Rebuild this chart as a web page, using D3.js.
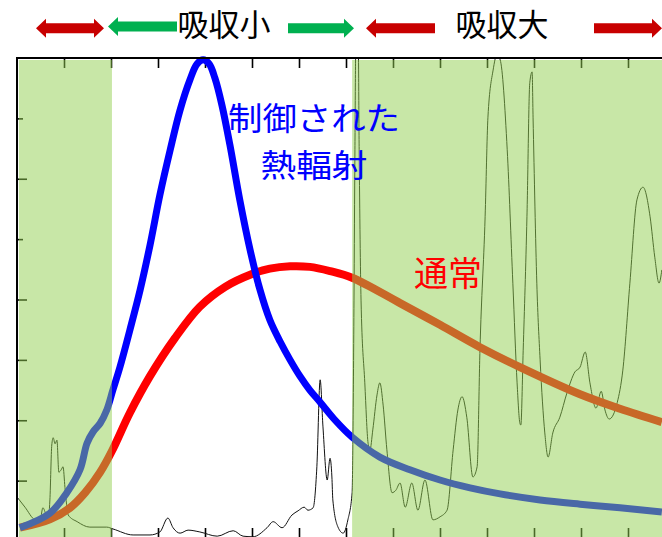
<!DOCTYPE html>
<html>
<head>
<meta charset="utf-8">
<script src="https://cdn.jsdelivr.net/npm/d3@7"></script>
<style>
  html, body { margin: 0; padding: 0; background: #fff; }
  svg { display: block; }
  text { font-family: "Noto Sans CJK JP", "Noto Sans", sans-serif; }
</style>
</head>
<body>
<svg id="chart" width="662" height="537"></svg>
<script>
// Wavelength axis positions (arbitrary units) and tick values
const xTicks = d3.range(1, 14);
const yTicksShort = [5, 7];
const yTicksLong = [1, 2, 3, 4, 6];

// Controlled thermal emission spectrum
const controlledX = [0.06, 0.70, 1.06, 1.34, 1.49, 1.62, 1.77, 1.91, 2.04, 2.19, 2.40, 2.62, 2.83, 3.04, 3.26, 3.47, 3.68, 3.83, 3.96, 4.09, 4.21, 4.36, 4.53, 4.74, 4.96, 5.17, 5.38, 5.60, 5.81, 6.02, 6.23, 6.45, 6.77, 7.13, 7.72, 8.36, 9.00, 9.64, 10.28, 11.13, 11.98, 12.83, 13.72];
const controlledY = [0.22, 0.46, 0.80, 1.18, 1.62, 1.81, 1.95, 2.17, 2.50, 2.88, 3.49, 4.16, 4.90, 5.73, 6.48, 7.14, 7.64, 7.90, 7.97, 7.90, 7.67, 7.22, 6.56, 5.65, 4.82, 4.16, 3.66, 3.30, 3.00, 2.73, 2.50, 2.30, 2.00, 1.72, 1.39, 1.18, 1.01, 0.88, 0.78, 0.68, 0.61, 0.55, 0.48];

// Ordinary (blackbody-like) thermal emission spectrum
const normalX = [0.06, 0.70, 1.13, 1.45, 1.77, 2.02, 2.40, 2.83, 3.36, 3.89, 4.43, 4.96, 5.38, 5.81, 6.23, 6.66, 7.13, 8.15, 9.00, 9.85, 10.70, 11.98, 12.83, 13.72];
const normalY = [0.22, 0.36, 0.55, 0.80, 1.14, 1.49, 2.12, 2.73, 3.36, 3.88, 4.21, 4.41, 4.51, 4.55, 4.54, 4.47, 4.36, 3.94, 3.58, 3.21, 2.88, 2.43, 2.19, 1.97];

// Atmospheric absorption spectrum
const absorbX = [0.02, 0.17, 0.38, 0.49, 0.55, 0.62, 0.66, 0.70, 0.74, 0.77, 0.81, 0.85, 0.89, 0.94, 0.98, 1.02, 1.09, 1.28, 1.55, 1.91, 2.04, 2.47, 2.83, 3.04, 3.21, 3.32, 3.47, 3.64, 3.89, 4.26, 4.60, 4.81, 5.02, 5.32, 5.45, 5.64, 5.85, 5.98, 6.11, 6.19, 6.30, 6.38, 6.45, 6.51, 6.60, 6.66, 6.70, 6.72, 6.83, 6.94, 7.04, 7.13, 7.15, 7.17, 7.19, 7.21, 7.26, 7.28, 7.32, 7.40, 7.47, 7.51, 7.57, 7.66, 7.72, 7.79, 7.87, 7.98, 8.06, 8.15, 8.26, 8.40, 8.53, 8.68, 8.85, 9.00, 9.15, 9.28, 9.38, 9.47, 9.57, 9.70, 9.79, 9.85, 9.96, 10.02, 10.13, 10.21, 10.28, 10.43, 10.55, 10.64, 10.70, 10.72, 10.77, 10.85, 10.91, 10.96, 10.98, 11.06, 11.13, 11.23, 11.30, 11.40, 11.55, 11.70, 11.87, 11.98, 12.09, 12.19, 12.32, 12.43, 12.51, 12.60, 12.77, 12.89, 13.04, 13.19, 13.32, 13.47, 13.57, 13.66, 13.72];
const absorbY = [0.71, 0.56, 0.35, 0.33, 0.55, 0.43, 0.35, 0.68, 1.59, 1.71, 1.61, 1.67, 1.14, 1.18, 1.23, 0.89, 0.43, 0.32, 0.23, 0.23, 0.20, 0.10, 0.10, 0.15, 0.38, 0.22, 0.13, 0.18, 0.15, 0.08, 0.17, 0.08, 0.07, 0.22, 0.32, 0.22, 0.43, 0.50, 0.56, 0.51, 0.55, 1.23, 2.67, 1.89, 1.01, 1.37, 1.06, 0.68, 0.23, 0.13, 0.35, 0.80, 1.89, 3.99, 6.48, 8.30, 8.30, 6.48, 3.99, 2.62, 1.62, 1.51, 1.84, 2.42, 2.62, 2.25, 1.51, 0.80, 0.84, 0.96, 0.56, 0.96, 0.51, 1.01, 0.35, 0.40, 0.51, 1.51, 2.17, 2.39, 2.05, 1.06, 1.23, 3.16, 5.37, 7.02, 7.80, 8.05, 7.97, 6.48, 4.27, 2.62, 1.95, 1.92, 3.16, 5.37, 7.59, 7.77, 7.02, 4.27, 3.00, 1.79, 1.39, 1.79, 2.05, 2.45, 2.80, 2.88, 3.13, 2.62, 2.20, 2.48, 2.17, 2.02, 2.29, 2.83, 4.27, 5.65, 5.86, 5.37, 4.70, 4.27, 4.49];

// Absorbing bands (x ranges) shaded on the plot
const bandStart = [0.04, 7.13];
const bandEnd = [2.02, 14.5];

// Labels
const bandLabels = ["吸収小", "吸収大"];
const controlledLabel = ["制御された", "熱輻射"];
const normalLabel = "通常";

const svg = d3.select("#chart");
const W = 662, H = 537;
const plot = { left: 17, top: 58, bottom: 541 };

const x = d3.scaleLinear().domain([0, 14]).range([plot.left, plot.left + 47 * 14]);
const y = d3.scaleLinear().domain([0, 8]).range([plot.bottom, plot.top]);

// clip for the absorption trace
svg.append("defs").append("clipPath").attr("id", "plotClip")
  .append("rect").attr("x", plot.left).attr("y", plot.top)
  .attr("width", W - plot.left).attr("height", plot.bottom - plot.top);

// tick marks (drawn beneath the band shading)
const tickStyle = g => {
  g.select(".domain").remove();
  g.selectAll(".tick line").attr("stroke", "#000").attr("stroke-width", 1.6);
  g.selectAll(".tick text").remove();
};
svg.append("g").attr("transform", `translate(0,${plot.top})`)
  .call(d3.axisTop(x).tickValues(xTicks).tickSize(-10)).call(tickStyle);
svg.append("g").attr("transform", `translate(0,${plot.bottom})`)
  .call(d3.axisBottom(x).tickValues(xTicks).tickSize(-13)).call(tickStyle);
svg.append("g").attr("transform", `translate(${plot.left},0)`)
  .call(d3.axisLeft(y).tickValues(yTicksShort).tickSize(-6)).call(tickStyle);
svg.append("g").attr("transform", `translate(${plot.left},0)`)
  .call(d3.axisLeft(y).tickValues(yTicksLong).tickSize(-10)).call(tickStyle);

// absorption trace
const absorbData = absorbX.map((v, i) => [v, absorbY[i]]);
svg.append("path")
  .datum(absorbData)
  .attr("clip-path", "url(#plotClip)")
  .attr("fill", "none")
  .attr("stroke", "#111")
  .attr("stroke-width", 1)
  .attr("d", d3.line().x(d => x(d[0])).y(d => y(d[1])).curve(d3.curveMonotoneX));

// emission curves
const smooth = d3.line().x(d => x(d[0])).y(d => y(d[1])).curve(d3.curveCatmullRom.alpha(0.5));
svg.append("path")
  .datum(normalX.map((v, i) => [v, normalY[i]]))
  .attr("fill", "none").attr("stroke", "#ff0000").attr("stroke-width", 8)
  .attr("d", smooth);
svg.append("path")
  .datum(controlledX.map((v, i) => [v, controlledY[i]]))
  .attr("fill", "none").attr("stroke", "#0000ff").attr("stroke-width", 7)
  .attr("d", smooth);

// translucent green shading over the absorbing bands
svg.append("g").selectAll("rect")
  .data(bandStart.map((s, i) => [s, bandEnd[i]]))
  .join("rect")
  .attr("x", d => x(d[0]))
  .attr("y", plot.top + 2)
  .attr("width", d => Math.min(x(d[1]), W) - x(d[0]))
  .attr("height", plot.bottom - plot.top - 2)
  .attr("fill", "#92d050")
  .attr("fill-opacity", 0.5);

// frame: left and top axis lines
svg.append("line").attr("x1", plot.left).attr("x2", plot.left)
  .attr("y1", plot.top - 1).attr("y2", plot.bottom)
  .attr("stroke", "#000").attr("stroke-width", 2);
svg.append("line").attr("x1", plot.left - 1).attr("x2", W)
  .attr("y1", plot.top).attr("y2", plot.top)
  .attr("stroke", "#000").attr("stroke-width", 2);

// curve labels (two lines, stretched to the label width)
svg.append("text").attr("x", 314).attr("y", 130)
  .attr("text-anchor", "middle").attr("font-size", 32).attr("fill", "#0000ff")
  .attr("textLength", 172).attr("lengthAdjust", "spacingAndGlyphs")
  .text(controlledLabel[0]);
svg.append("text").attr("x", 314).attr("y", 177)
  .attr("text-anchor", "middle").attr("font-size", 32).attr("fill", "#0000ff")
  .attr("textLength", 107).attr("lengthAdjust", "spacingAndGlyphs")
  .text(controlledLabel[1]);
svg.append("text").attr("x", 448).attr("y", 286)
  .attr("text-anchor", "middle").attr("font-size", 34).attr("fill", "#ff0000")
  .text(normalLabel);

// band headers
svg.append("text").attr("x", 224).attr("y", 36)
  .attr("text-anchor", "middle").attr("font-size", 31).attr("fill", "#000")
  .text(bandLabels[0]);
svg.append("text").attr("x", 502).attr("y", 36)
  .attr("text-anchor", "middle").attr("font-size", 31).attr("fill", "#000")
  .text(bandLabels[1]);

// block arrows above the plot
function arrowPath(x0, x1, cy, headL, headStart, headEnd) {
  const sh = 5, hh = 9.5;
  const p = [];
  const a = headStart ? x0 + headL : x0;
  const b = headEnd ? x1 - headL : x1;
  if (headStart) { p.push([x0, cy], [a, cy - hh], [a, cy - sh]); } else { p.push([x0, cy - sh]); }
  if (headEnd) { p.push([b, cy - sh], [b, cy - hh], [x1, cy], [b, cy + hh], [b, cy + sh]); }
  else { p.push([x1, cy - sh], [x1, cy + sh]); }
  if (headStart) { p.push([a, cy + sh], [a, cy + hh]); } else { p.push([x0, cy + sh]); }
  return "M" + p.map(q => q.join(",")).join("L") + "Z";
}
const arrows = [
  { x0: 36, x1: 104, cy: 28.3, s: true, e: true, c: "#c80000" },
  { x0: 108, x1: 177, cy: 26.5, s: true, e: false, c: "#00b050" },
  { x0: 288, x1: 354, cy: 28.3, s: false, e: true, c: "#00b050" },
  { x0: 366, x1: 435, cy: 28.3, s: true, e: false, c: "#c80000" },
  { x0: 594, x1: 662, cy: 28.3, s: false, e: true, c: "#c80000" }
];
svg.append("g").selectAll("path").data(arrows).join("path")
  .attr("d", d => arrowPath(d.x0, d.x1, d.cy, 10, d.s, d.e))
  .attr("fill", d => d.c);
</script>
</body>
</html>
